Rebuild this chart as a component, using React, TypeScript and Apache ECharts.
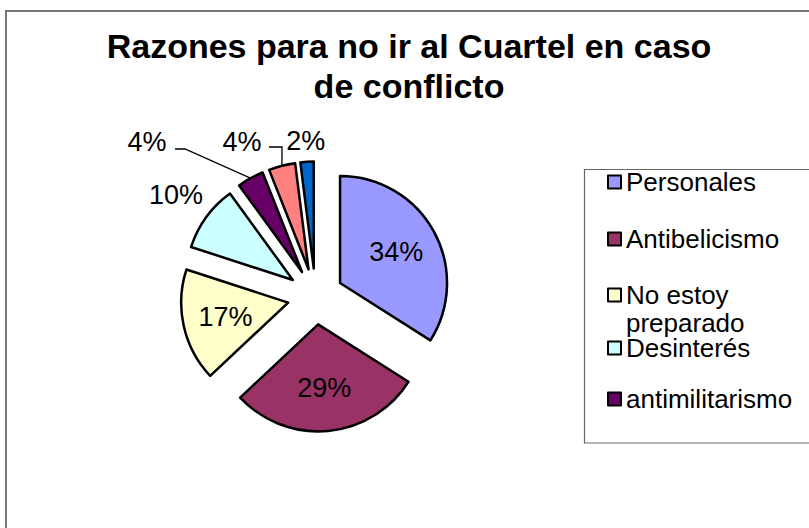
import React, { useEffect, useRef } from 'react';
import * as echarts from 'echarts';

// ---- data ----
const categories = [
  'Personales',
  'Antibelicismo',
  'No estoy preparado',
  'Desinterés',
  'antimilitarismo',
  'Otros motivos',
  'NS/NC',
];
const percentages = [34, 29, 17, 10, 4, 4, 2];
const sliceColors = ['#9999FF', '#993366', '#FFFFCC', '#CCFFFF', '#660066', '#FF8080', '#0066CC'];
const legendNames = categories.slice(0, 5);
const titleLines = ['Razones para no ir al Cuartel en caso', 'de conflicto'];

// ---- layout / style ----
const CENTER = [315.5, 296.5];
const RADIUS = 107;
const EXPLODE = 28;
const FONT = '"Liberation Sans", Arial, Helvetica, sans-serif';
// label distance from exploded apex, as a fraction of radius
const labelRadial: (number | null)[] = [0.6, 0.6, 0.6, 1.35, null, null, 1.19];
// labels moved aside with leader lines
const labelFixed: Record<number, { x: number; y: number; line: number[][] }> = {
  4: { x: 147, y: 142, line: [[185, 149], [175, 149]] },
  5: { x: 242, y: 142, line: [[282, 147], [269, 147]] },
};
const legendCenters = [182, 239, 295, 347, 399];
const legendLineHeights = [26, 26, 27.5, 24, 26];

export default function App() {
  const ref = useRef<HTMLDivElement>(null);
  useEffect(() => {
    const chart = echarts.init(ref.current!, null, { renderer: 'svg' });
    const data = categories.map((name, i) => ({
      name,
      value: percentages[i],
      selected: true,
      itemStyle: { color: sliceColors[i] },
    }));
    const labelData = categories.map((name, i) => ({ name, value: percentages[i] }));

    const legends = legendNames.map((name, i) => {
      const wrapped = name === 'No estoy preparado';
      const lh = legendLineHeights[i];
      return {
        data: [name],
        orient: 'vertical',
        left: 607,
        top: legendCenters[i] - (wrapped ? lh * 1.5 : lh / 2),
        padding: 0,
        itemWidth: 13,
        itemHeight: 13,
        icon: 'rect',
        selectedMode: false,
        itemStyle: { borderColor: '#000', borderWidth: 2 },
        // wrapped entry: first line sits beside the icon, second line hangs below
        formatter: (n: string) => (n === 'No estoy preparado' ? '\nNo estoy\npreparado' : n),
        textStyle: {
          fontSize: 26,
          fontFamily: FONT,
          color: '#000',
          lineHeight: lh,
        },
      };
    });

    chart.setOption({
      animation: false,
      backgroundColor: '#fff',
      title: {
        text: titleLines.join('\n'),
        left: 409,
        top: 26,
        textAlign: 'center',
        padding: 0,
        textStyle: {
          fontSize: 34,
          fontWeight: 'bold',
          fontFamily: FONT,
          color: '#000',
          lineHeight: 40,
        },
      },
      legend: legends,
      graphic: [
        {
          type: 'rect',
          silent: true,
          z: -10,
          shape: { x: 6, y: 11, width: 900, height: 900 },
          style: { fill: 'none', stroke: '#777', lineWidth: 2 },
        },
        {
          type: 'rect',
          silent: true,
          z: -10,
          shape: { x: 584.5, y: 169.5, width: 300, height: 273.5 },
          style: { fill: 'none', stroke: '#666', lineWidth: 1.2 },
        },
      ],
      series: [
        {
          type: 'pie',
          center: CENTER,
          radius: RADIUS,
          startAngle: 90,
          clockwise: true,
          selectedMode: 'multiple',
          selectedOffset: EXPLODE,
          avoidLabelOverlap: false,
          data,
          label: { show: false },
          labelLine: { show: false },
          itemStyle: { borderColor: '#000', borderWidth: 2.5 },
          select: { itemStyle: { borderColor: '#000', borderWidth: 2.5 } },
          emphasis: { disabled: true },
        },
        {
          type: 'pie',
          center: CENTER,
          radius: RADIUS,
          startAngle: 90,
          clockwise: true,
          silent: true,
          avoidLabelOverlap: false,
          data: labelData,
          itemStyle: { color: 'rgba(0,0,0,0)', borderWidth: 0 },
          emphasis: { disabled: true },
          label: {
            show: true,
            position: 'outside',
            formatter: '{c}%',
            fontSize: 27,
            fontFamily: FONT,
            color: '#000',
          },
          labelLine: {
            show: true,
            length: 10,
            length2: 10,
            lineStyle: { color: '#000', width: 1.3 },
          },
          labelLayout: (p: any) => {
            const i = p.dataIndex;
            const pts = p.labelLinePoints;
            if (!pts) return {};
            const vx = pts[0][0] - CENTER[0];
            const vy = pts[0][1] - CENTER[1];
            const len = Math.hypot(vx, vy) || 1;
            const ux = vx / len;
            const uy = vy / len;
            const cx = CENTER[0] + EXPLODE * ux;
            const cy = CENTER[1] + EXPLODE * uy;
            const fixed = labelFixed[i];
            if (fixed) {
              return {
                x: fixed.x,
                y: fixed.y,
                align: 'center',
                verticalAlign: 'middle',
                hideOverlap: false,
                labelLinePoints: [[cx + RADIUS * ux, cy + RADIUS * uy], ...fixed.line],
              };
            }
            const k = labelRadial[i] ?? 1.2;
            const x = cx + k * RADIUS * ux;
            const y = cy + k * RADIUS * uy;
            return {
              x,
              y,
              align: 'center',
              verticalAlign: 'middle',
              hideOverlap: false,
              labelLinePoints: [[x, y], [x, y], [x, y]],
            };
          },
        },
      ],
    });
    return () => chart.dispose();
  }, []);
  return (
    <div
      ref={ref}
      style={{ position: 'fixed', left: 0, top: 0, width: 809, height: 528, background: '#fff' }}
    />
  );
}
